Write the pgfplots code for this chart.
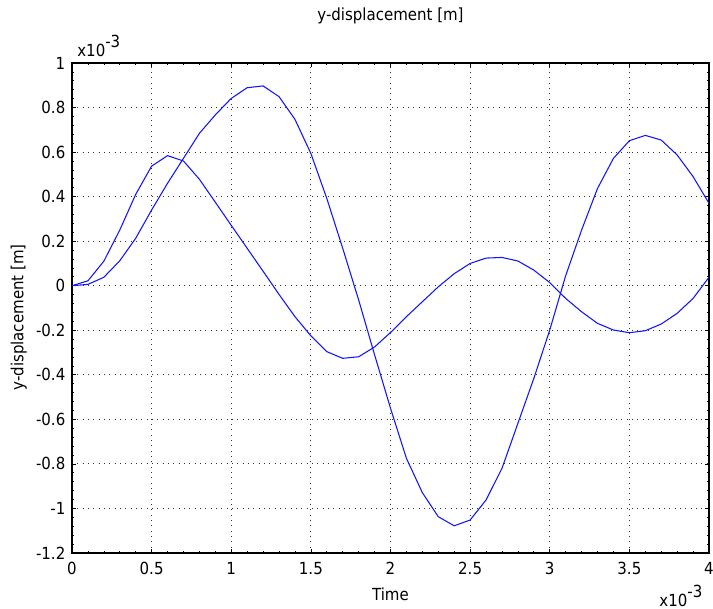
\documentclass[border=0pt]{standalone}
\usepackage{fontspec}
\setmainfont{DejaVu Sans Condensed}
\usepackage{pgfplots}
\pgfplotsset{compat=1.18}
\definecolor{curveblue}{RGB}{20,20,250}
\newcommand\chartfont{\fontsize{12.5}{15}\selectfont}

% y-displacement of two points, time in units of 1e-3 s, displacement in 1e-3 m
\pgfplotstableread{
t     v
0     0
0.1   0.022
0.2   0.11
0.3   0.25
0.4   0.41
0.5   0.537
0.6   0.584
0.7   0.56
0.8   0.478
0.9   0.375
1.0   0.271
1.1   0.168
1.2   0.065
1.3   -0.039
1.4   -0.139
1.5   -0.225
1.6   -0.296
1.7   -0.326
1.8   -0.319
1.9   -0.275
2.0   -0.21
2.1   -0.139
2.2   -0.072
2.3   -0.005
2.4   0.054
2.5   0.10
2.6   0.124
2.7   0.127
2.8   0.111
2.9   0.07
3.0   0.014
3.1   -0.057
3.2   -0.117
3.3   -0.169
3.4   -0.199
3.5   -0.211
3.6   -0.202
3.7   -0.172
3.8   -0.124
3.9   -0.057
4.0   0.038
}\pointA

\pgfplotstableread{
t     v
0     0
0.1   0.006
0.2   0.038
0.3   0.112
0.4   0.213
0.5   0.34
0.6   0.46
0.7   0.572
0.8   0.684
0.9   0.767
1.0   0.841
1.1   0.889
1.2   0.897
1.3   0.849
1.4   0.747
1.5   0.594
1.6   0.392
1.7   0.168
1.8   -0.064
1.9   -0.31
2.0   -0.55
2.1   -0.775
2.2   -0.929
2.3   -1.037
2.4   -1.078
2.5   -1.052
2.6   -0.962
2.7   -0.82
2.8   -0.618
2.9   -0.416
3.0   -0.199
3.1   0.045
3.2   0.25
3.3   0.437
3.4   0.572
3.5   0.651
3.6   0.675
3.7   0.654
3.8   0.587
3.9   0.49
4.0   0.37
}\pointB

\begin{document}
\begin{tikzpicture}[font=\chartfont]
\begin{axis}[
  scale only axis, width=477.75pt, height=367.5pt,
  xmin=0, xmax=4, ymin=-1.2, ymax=1,
  xtick={0,0.5,...,4}, ytick={-1.2,-1,...,1},
  minor x tick num=4, minor y tick num=4,
  minor tick length=1.5pt, major tick length=3pt,
  tick style={black, line width=0.5pt},
  axis line style={black, line width=0.8pt},
  grid=major, major grid style={black!80, line width=0.7pt, dash pattern=on 0.7pt off 3.3pt},
  scaled ticks=false,
  /pgf/number format/assume math mode=true,
  ticklabel style={font=\chartfont},
  xticklabel style={yshift=-3.5pt},
  yticklabel style={xshift=-1.5pt},
  clip=false]
\addplot[curveblue, line width=0.8pt] table[x=t, y=v] {\pointA};
\addplot[curveblue, line width=0.8pt] table[x=t, y=v] {\pointB};

\node[anchor=center] at ([yshift=35pt]rel axis cs:0.5,1) {y-displacement [m]};
\node[anchor=base west] at ([xshift=0.5pt, yshift=5pt]rel axis cs:0,1) {x10\raisebox{0.5em}{-3}};
\node[anchor=base east] at ([xshift=-1.5pt, yshift=-40pt]rel axis cs:1,0) {x10\raisebox{0.5em}{-3}};
\node[anchor=base] at ([yshift=-36pt]rel axis cs:0.5,0) {Time};
\node[anchor=center, rotate=90] at ([xshift=-40pt, yshift=-7pt]rel axis cs:0,0.5) {y-displacement [m]};
\end{axis}
\pgfresetboundingbox
\path ([shift={(-54pt,-42pt)}]current axis.south west) rectangle ([shift={(3pt,47.25pt)}]current axis.north east);
\end{tikzpicture}
\end{document}
